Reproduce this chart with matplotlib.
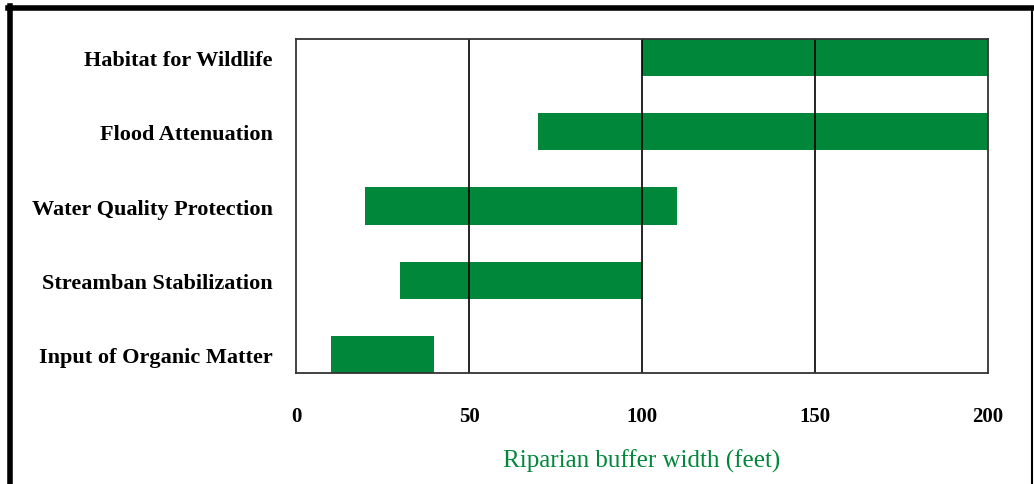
import matplotlib
matplotlib.use("Agg")
import matplotlib.pyplot as plt
from matplotlib.lines import Line2D

# buffer width ranges (feet) for each function, top to bottom
functions = ["Habitat for Wildlife", "Flood Attenuation", "Water Quality Protection",
             "Streamban Stabilization", "Input of Organic Matter"]
range_start = [100, 70, 20, 30, 10]
range_end = [200, 200, 110, 100, 40]
x_ticks = [0, 50, 100, 150, 200]
x_tick_labels = ["0", "50", "100", "150", "200"]

green = "#00873a"
font = "Liberation Serif"

fig = plt.figure(figsize=(10.34, 4.85), dpi=100)
ax = fig.add_axes([296 / 1034, 1 - 374 / 485, 692 / 1034, 334 / 485])

ypos = list(range(len(functions)))[::-1]
widths = [e - s for s, e in zip(range_start, range_end)]
ax.barh(ypos, widths, left=range_start, height=0.5, color=green, zorder=1)

ax.set_xlim(0, 200)
ax.set_ylim(-0.25, 4.25)
for v in x_ticks[1:-1]:
    ax.axvline(v, color="black", lw=1.2, zorder=2)

ax.set_xticks(x_ticks)
ax.set_xticklabels(x_tick_labels, fontfamily=font, fontweight="bold", fontsize=15)
ax.set_yticks(ypos)
ax.set_yticklabels(functions, fontfamily=font, fontweight="bold", fontsize=16)
ax.tick_params(axis="x", length=0, pad=24)
ax.tick_params(axis="y", length=0, pad=17)
for s in ax.spines.values():
    s.set_color("#333333")
    s.set_linewidth(1.3)

ax.set_xlabel("Riparian buffer width (feet)", color=green, fontfamily=font,
              fontsize=18, labelpad=16)

# outer frame
fig.add_artist(Line2D([10 / 1034, 10 / 1034], [0, 1 - 7 / 485], color="black", lw=4,
                      transform=fig.transFigure))
fig.add_artist(Line2D([8 / 1034, 1032 / 1034], [1 - 9 / 485, 1 - 9 / 485], color="black", lw=4,
                      transform=fig.transFigure))
fig.add_artist(Line2D([1032 / 1034, 1032 / 1034], [0, 1 - 9 / 485], color="black", lw=1.5,
                      transform=fig.transFigure))

fig.savefig("out.png", dpi=100)
